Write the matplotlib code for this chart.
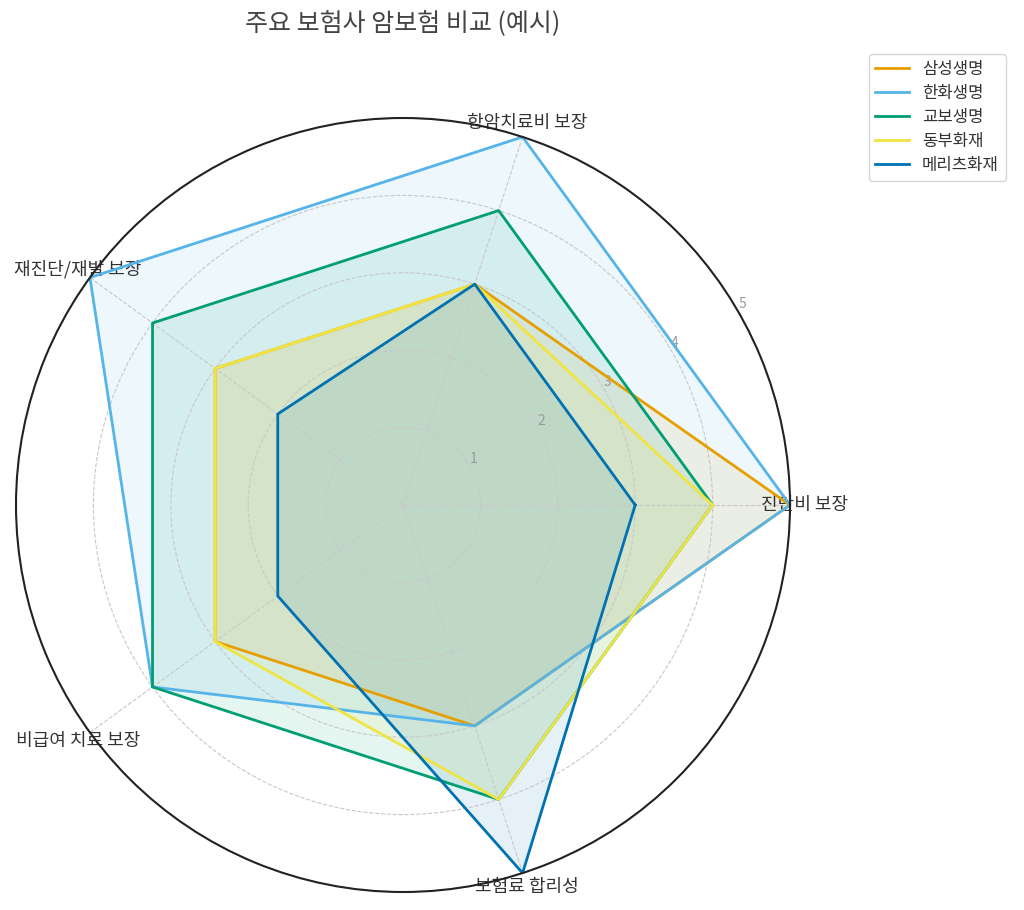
import numpy as np
import matplotlib
matplotlib.use("Agg")
import matplotlib.pyplot as plt

plt.rcParams['font.family'] = ['Noto Sans CJK KR', 'DejaVu Sans']

categories = ["진단비 보장", "항암치료비 보장", "재진단/재발 보장", "비급여 치료 보장", "보험료 합리성"]
insurers = ["삼성생명", "한화생명", "교보생명", "동부화재", "메리츠화재"]
samsung = [5, 3, 3, 3, 3]
hanwha = [5, 5, 5, 4, 3]
kyobo = [4, 4, 4, 4, 4]
dongbu = [4, 3, 3, 3, 4]
meritz = [3, 3, 2, 2, 5]
series = [samsung, hanwha, kyobo, dongbu, meritz]
colors = ["#E69F00", "#56B4E9", "#009E73", "#F0E442", "#0072B2"]
r_ticks = [1, 2, 3, 4, 5]

n = len(categories)
angles = np.linspace(0, 2 * np.pi, n, endpoint=False).tolist()
angles_closed = angles + angles[:1]

fig = plt.figure(figsize=(10.24, 9.10), dpi=100)
ax = fig.add_axes([16 / 1024, 18 / 910, 774 / 1024, 774 / 910], polar=True)

for name, vals, col in zip(insurers, series, colors):
    v = list(vals) + vals[:1]
    ax.plot(angles_closed, v, color=col, linewidth=2, label=name)
    ax.fill(angles_closed, v, color=col, alpha=0.1)

ax.set_ylim(0, 5)
ax.set_yticks(r_ticks)
ax.set_yticklabels([str(t) for t in r_ticks], color="#999999", fontsize=10)
ax.set_rlabel_position(30)
ax.set_xticks(angles)
ax.set_xticklabels(categories, fontsize=13, color="#333333")
ax.tick_params(axis='x', pad=0)
ax.grid(True, color="#c8c8c8", linestyle="--", linewidth=0.8)
ax.spines['polar'].set_color("#222222")
ax.spines['polar'].set_linewidth(1.5)

fig.text(403 / 1024, 1 - 24 / 910, "주요 보험사 암보험 비교 (예시)", ha="center", va="center",
         fontsize=18, color="#444444")

fig.legend(loc="upper right", bbox_to_anchor=(1014 / 1024, 1 - 46 / 910),
           fontsize=12, frameon=True, edgecolor="#cccccc", labelcolor="#333333",
           labelspacing=0.42)

fig.savefig("out.png", dpi=100)
